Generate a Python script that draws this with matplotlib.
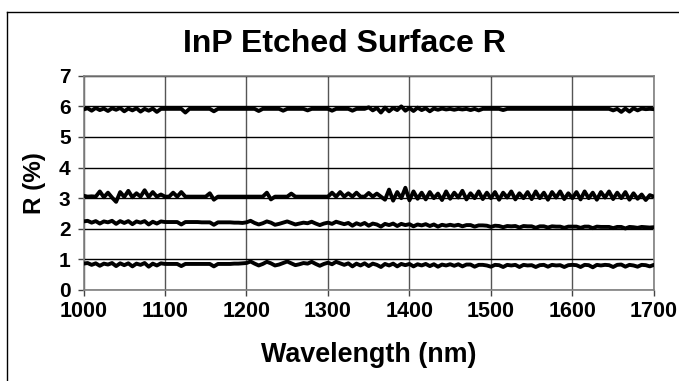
import numpy as np
import matplotlib
matplotlib.use("Agg")
import matplotlib.pyplot as plt
from matplotlib.lines import Line2D

wavelength = np.arange(1000, 1701, 5)

r_top = [5.90, 5.94, 5.86, 5.95, 5.88, 5.93, 5.85, 5.94, 5.89, 5.95,
         5.84, 5.93, 5.87, 5.94, 5.83, 5.92, 5.86, 5.93, 5.82, 5.92,
         5.92, 5.92, 5.92, 5.92, 5.92, 5.80, 5.92, 5.92, 5.92, 5.92,
         5.92, 5.92, 5.84, 5.92, 5.92, 5.92, 5.92, 5.92, 5.92, 5.92,
         5.92, 5.92, 5.92, 5.85, 5.92, 5.92, 5.92, 5.92, 5.92, 5.86,
         5.92, 5.92, 5.92, 5.92, 5.92, 5.87, 5.92, 5.92, 5.92, 5.92,
         5.92, 5.86, 5.92, 5.92, 5.92, 5.92, 5.86, 5.92, 5.92, 5.92,
         5.97, 5.87, 5.95, 5.80, 5.96, 5.84, 5.95, 5.88, 6.00, 5.86,
         5.95, 5.85, 5.96, 5.88, 5.94, 5.84, 5.93, 5.89, 5.93, 5.90,
         5.92, 5.89, 5.92, 5.90, 5.92, 5.88, 5.92, 5.87, 5.92, 5.92,
         5.92, 5.92, 5.92, 5.88, 5.92, 5.92, 5.92, 5.92, 5.92, 5.92,
         5.92, 5.92, 5.92, 5.92, 5.92, 5.92, 5.92, 5.92, 5.92, 5.92,
         5.92, 5.92, 5.92, 5.92, 5.92, 5.92, 5.92, 5.92, 5.92, 5.92,
         5.87, 5.92, 5.82, 5.93, 5.83, 5.94, 5.87, 5.93, 5.91, 5.92,
         5.91]

r_3 = [3.08, 3.05, 3.06, 3.05, 3.22, 3.03, 3.18, 3.02, 2.88, 3.20,
       3.04, 3.24, 3.03, 3.16, 3.05, 3.26, 3.04, 3.20, 3.05, 3.12,
       3.05, 3.05, 3.18, 3.05, 3.20, 3.05, 3.05, 3.05, 3.05, 3.05,
       3.05, 3.16, 2.95, 3.05, 3.05, 3.05, 3.05, 3.05, 3.05, 3.05,
       3.05, 3.05, 3.05, 3.05, 3.05, 3.18, 2.96, 3.05, 3.05, 3.05,
       3.05, 3.15, 3.05, 3.05, 3.05, 3.05, 3.05, 3.05, 3.05, 3.05,
       3.05, 3.18, 3.05, 3.20, 3.05, 3.16, 3.05, 3.18, 3.05, 3.05,
       3.17, 3.05, 3.15, 3.05, 2.95, 3.28, 2.92, 3.20, 3.00, 3.34,
       2.93, 3.22, 2.98, 3.18, 2.96, 3.20, 3.00, 3.15, 2.94, 3.22,
       2.98, 3.18, 3.02, 3.24, 2.96, 3.16, 3.00, 3.22, 2.97, 3.18,
       3.00, 3.20, 2.95, 3.18, 3.02, 3.22, 2.96, 3.16, 3.00, 3.20,
       2.97, 3.22, 3.00, 3.18, 2.95, 3.20, 3.02, 3.22, 2.97, 3.16,
       3.00, 3.20, 2.96, 3.22, 3.00, 3.18, 2.95, 3.20, 3.02, 3.22,
       2.97, 3.18, 3.00, 3.20, 2.95, 3.16, 2.98, 3.12, 2.94, 3.10,
       3.05]

r_2 = [2.24, 2.26, 2.20, 2.25, 2.17, 2.24, 2.21, 2.26, 2.16, 2.25,
       2.19, 2.25, 2.15, 2.24, 2.20, 2.25, 2.14, 2.23, 2.17, 2.24,
       2.22, 2.22, 2.22, 2.22, 2.14, 2.22, 2.22, 2.22, 2.22, 2.21,
       2.21, 2.21, 2.13, 2.21, 2.21, 2.21, 2.21, 2.20, 2.20, 2.19,
       2.21, 2.26, 2.19, 2.14, 2.18, 2.24, 2.20, 2.13, 2.16, 2.20,
       2.24, 2.19, 2.14, 2.17, 2.20, 2.18, 2.23, 2.17, 2.12, 2.17,
       2.20, 2.16, 2.23, 2.19, 2.15, 2.19, 2.10, 2.18, 2.13, 2.19,
       2.10, 2.17, 2.14, 2.07, 2.16, 2.12, 2.17, 2.09, 2.16, 2.12,
       2.15, 2.08, 2.14, 2.11, 2.15, 2.09, 2.14, 2.07, 2.13, 2.10,
       2.13, 2.10, 2.13, 2.08, 2.12, 2.12, 2.07, 2.11, 2.11, 2.10,
       2.06, 2.10, 2.09, 2.05, 2.09, 2.08, 2.09, 2.04, 2.09, 2.08,
       2.08, 2.03, 2.08, 2.08, 2.04, 2.08, 2.07, 2.07, 2.03, 2.07,
       2.07, 2.07, 2.03, 2.07, 2.07, 2.02, 2.07, 2.06, 2.06, 2.06,
       2.02, 2.06, 2.06, 2.01, 2.06, 2.05, 2.03, 2.06, 2.05, 2.04,
       2.05]

r_1 = [0.86, 0.88, 0.82, 0.87, 0.79, 0.86, 0.83, 0.88, 0.78, 0.87,
       0.81, 0.87, 0.77, 0.86, 0.82, 0.88, 0.76, 0.86, 0.80, 0.87,
       0.85, 0.85, 0.85, 0.85, 0.78, 0.85, 0.85, 0.85, 0.85, 0.85,
       0.85, 0.85, 0.77, 0.85, 0.85, 0.85, 0.85, 0.86, 0.86, 0.87,
       0.88, 0.93, 0.86, 0.80, 0.85, 0.92, 0.87, 0.80, 0.83, 0.88,
       0.93, 0.87, 0.81, 0.84, 0.88, 0.86, 0.92, 0.85, 0.79, 0.85,
       0.89, 0.84, 0.92, 0.87, 0.82, 0.87, 0.77, 0.86, 0.80, 0.87,
       0.78, 0.86, 0.82, 0.75, 0.85, 0.80, 0.86, 0.77, 0.85, 0.81,
       0.85, 0.77, 0.84, 0.80, 0.85, 0.78, 0.84, 0.76, 0.83, 0.80,
       0.84, 0.79, 0.84, 0.77, 0.83, 0.83, 0.76, 0.82, 0.82, 0.80,
       0.76, 0.82, 0.81, 0.75, 0.82, 0.80, 0.82, 0.75, 0.82, 0.80,
       0.81, 0.75, 0.81, 0.82, 0.76, 0.82, 0.80, 0.81, 0.75, 0.81,
       0.82, 0.81, 0.75, 0.82, 0.81, 0.74, 0.82, 0.80, 0.82, 0.81,
       0.75, 0.82, 0.83, 0.76, 0.82, 0.80, 0.76, 0.82, 0.81, 0.77,
       0.82]

x_ticks = [1000, 1100, 1200, 1300, 1400, 1500, 1600, 1700]
y_ticks = [0, 1, 2, 3, 4, 5, 6, 7]

plt.rcParams['font.family'] = ['Liberation Sans', 'DejaVu Sans']

fig = plt.figure(figsize=(6.79, 3.81), dpi=100)
ax = fig.add_axes([0.123, 0.239, 0.840, 0.562])

for s in (r_top, r_3, r_2, r_1):
    ax.plot(wavelength, s, color='black', lw=2.8, solid_joinstyle='round',
            solid_capstyle='round', zorder=3)

ax.set_xlim(1000, 1700)
ax.set_ylim(0, 7)
ax.set_xticks(x_ticks)
ax.set_yticks(y_ticks)
ax.set_xticklabels([str(v) for v in x_ticks], fontsize=15.5, fontweight='bold')
ax.set_yticklabels([str(v) for v in y_ticks], fontsize=15, fontweight='bold')
ax.tick_params(direction='out', length=4.3, width=1, color='#444444')
ax.tick_params(axis='x', pad=4)
ax.tick_params(axis='y', pad=5)

ax.grid(axis='y', color='black', lw=1.0, zorder=1)
ax.grid(axis='x', color='#555555', lw=1.0, zorder=1)
ax.set_axisbelow(True)
for sp in ax.spines.values():
    sp.set_color('#808080')
    sp.set_linewidth(1.2)

fig.text(344 / 679, 1 - 52 / 381, 'InP Etched Surface R', fontsize=23,
         fontweight='bold', ha='center', va='baseline')
ax.set_xlabel('Wavelength (nm)', fontsize=19.4, fontweight='bold', labelpad=14)
ax.set_ylabel('R (%)', fontsize=17.5, fontweight='bold', labelpad=9)

fig.add_artist(Line2D([7 / 679, 7 / 679], [0, 1 - 12 / 381],
                      transform=fig.transFigure, color='black', lw=1.0))
fig.add_artist(Line2D([7 / 679, 1], [1 - 12 / 381, 1 - 12 / 381],
                      transform=fig.transFigure, color='black', lw=1.0))

fig.savefig('out.png', dpi=100)
